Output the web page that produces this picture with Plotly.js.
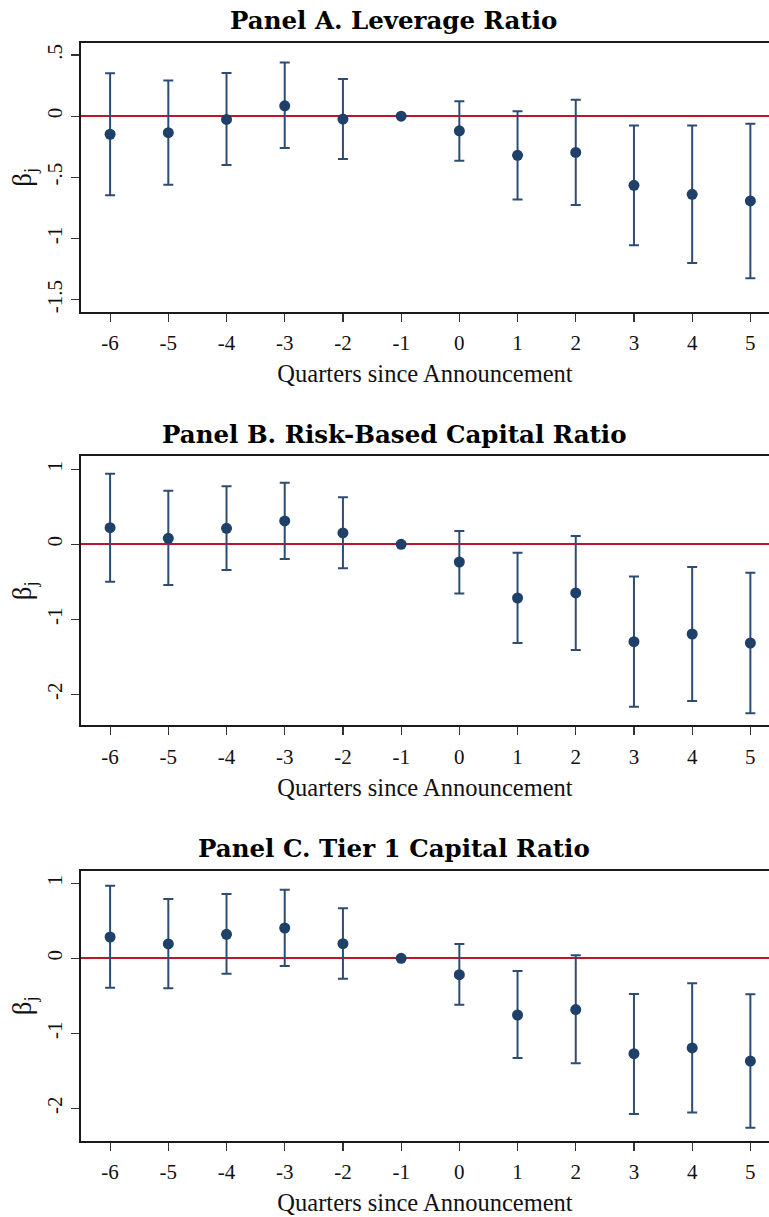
<!DOCTYPE html>
<html>
<head>
<meta charset="utf-8">
<script src="https://cdn.plot.ly/plotly-3.0.1.min.js"></script>
<style>
  html, body { margin: 0; padding: 0; background: #ffffff; overflow: hidden; }
  #chart { width: 769px; height: 1217px; }
</style>
</head>
<body>
<div id="chart"></div>
<script>
// ---- Data ----
const quarters = [-6, -5, -4, -3, -2, -1, 0, 1, 2, 3, 4, 5];
const xTickText = ['-6', '-5', '-4', '-3', '-2', '-1', '0', '1', '2', '3', '4', '5'];

const panelTitles = ['Panel A. Leverage Ratio', 'Panel B. Risk-Based Capital Ratio', 'Panel C. Tier 1 Capital Ratio'];
const xAxisTitle = 'Quarters since Announcement';
const yAxisTitle = 'β<sub>j</sub>';

// Panel A: Leverage Ratio
const levCoef = [-0.148, -0.135, -0.027, 0.084, -0.024, 0, -0.120, -0.320, -0.296, -0.565, -0.639, -0.693];
const levHi   = [ 0.351,  0.291,  0.353, 0.438,  0.304, 0,  0.122,  0.041,  0.133, -0.076, -0.076, -0.063];
const levLo   = [-0.647, -0.560, -0.400, -0.261, -0.351, 0, -0.364, -0.680, -0.726, -1.055, -1.199, -1.324];
const levTickVals = [0.5, 0, -0.5, -1, -1.5];
const levTickText = ['.5', '0', '-.5', '-1', '-1.5'];

// Panel B: Risk-Based Capital Ratio
const rbcCoef = [0.221, 0.080, 0.213, 0.311, 0.151, 0, -0.236, -0.716, -0.649, -1.299, -1.196, -1.316];
const rbcHi   = [0.941, 0.715, 0.773, 0.821, 0.627, 0,  0.178, -0.112,  0.111, -0.431, -0.303, -0.380];
const rbcLo   = [-0.498, -0.543, -0.343, -0.196, -0.320, 0, -0.657, -1.316, -1.409, -2.165, -2.090, -2.254];

// Panel C: Tier 1 Capital Ratio
const t1Coef = [0.284, 0.191, 0.320, 0.404, 0.195, 0, -0.218, -0.756, -0.684, -1.271, -1.195, -1.370];
const t1Hi   = [0.968, 0.791, 0.857, 0.915, 0.667, 0,  0.190, -0.168,  0.040, -0.475, -0.333, -0.480];
const t1Lo   = [-0.392, -0.400, -0.205, -0.103, -0.272, 0, -0.620, -1.328, -1.400, -2.075, -2.057, -2.259];
const capTickVals = [1, 0, -1, -2];
const capTickText = ['1', '0', '-1', '-2'];

// ---- Styling ----
const H = 1217;
const navy = '#1f4068';
const barColor = '#2c4c74';
const red = '#c0142c';
const serif = 'Liberation Serif, Times New Roman, serif';
const titleSerif = 'DejaVu Serif, Liberation Serif, serif';

function makeTrace(coef, hi, lo, axisNum) {
  const sfx = axisNum === 1 ? '' : String(axisNum);
  return {
    type: 'scatter',
    mode: 'markers',
    x: quarters,
    y: coef,
    xaxis: 'x' + sfx,
    yaxis: 'y' + sfx,
    marker: { color: navy, size: 11 },
    error_y: {
      type: 'data',
      symmetric: false,
      array: hi.map((h, i) => h - coef[i]),
      arrayminus: coef.map((c, i) => c - lo[i]),
      color: barColor,
      thickness: 2,
      width: 5
    },
    showlegend: false,
    hoverinfo: 'x+y'
  };
}

const data = [
  makeTrace(levCoef, levHi, levLo, 1),
  makeTrace(rbcCoef, rbcHi, rbcLo, 2),
  makeTrace(t1Coef, t1Hi, t1Lo, 3)
];

// pixel boxes of the three plotting areas (top, bottom)
const boxes = [[42.7, 312], [456, 725.3], [871, 1140.7]];
const yRanges = [[-1.6, 0.6], [-2.413, 1.177], [-2.432, 1.164]];
const yTicks = [[levTickVals, levTickText], [capTickVals, capTickText], [capTickVals, capTickText]];

function xAxis(i) {
  return {
    domain: [0, 1],
    anchor: i === 0 ? 'y' : 'y' + (i + 1),
    range: [-6.5, 5.32],
    tickmode: 'array',
    tickvals: quarters,
    ticktext: xTickText,
    ticks: 'outside',
    ticklen: 8,
    tickwidth: 1.2,
    tickcolor: '#333',
    ticklabelstandoff: 3,
    showline: true,
    linecolor: '#1a1a1a',
    linewidth: 2,
    mirror: true,
    showgrid: false,
    zeroline: false,
    automargin: false,
    fixedrange: true,
    tickfont: { family: serif, size: 21, color: '#111' },
    title: { text: xAxisTitle, font: { family: serif, size: 24.5, color: '#111' }, standoff: 11 }
  };
}

function yAxis(i) {
  const [top, bot] = boxes[i];
  return {
    domain: [1 - bot / H, 1 - top / H],
    anchor: i === 0 ? 'x' : 'x' + (i + 1),
    range: yRanges[i],
    tickmode: 'array',
    tickvals: yTicks[i][0],
    ticktext: yTicks[i][1],
    tickangle: -90,
    ticks: 'outside',
    ticklen: 8,
    tickwidth: 1.2,
    tickcolor: '#333',
    ticklabelstandoff: 1,
    showline: true,
    linecolor: '#1a1a1a',
    linewidth: 2,
    mirror: false,
    showgrid: false,
    zeroline: true,
    zerolinecolor: red,
    zerolinewidth: 2,
    automargin: false,
    fixedrange: true,
    tickfont: { family: serif, size: 21, color: '#111' },
    title: { text: yAxisTitle, font: { family: serif, size: 27, color: '#111' }, standoff: 3 }
  };
}

const layout = {
  width: 769,
  height: H,
  margin: { l: 81, r: 0, t: 0, b: 0 },
  paper_bgcolor: '#ffffff',
  plot_bgcolor: '#ffffff',
  showlegend: false,
  xaxis: xAxis(0), yaxis: yAxis(0),
  xaxis2: xAxis(1), yaxis2: yAxis(1),
  xaxis3: xAxis(2), yaxis3: yAxis(2),
  annotations: panelTitles.map((t, i) => ({
    text: t,
    xref: 'paper', yref: 'paper',
    x: (393.5 - 81) / 688,
    y: 1 - [20, 434, 848][i] / H,
    xanchor: 'center', yanchor: 'middle',
    showarrow: false,
    font: { family: titleSerif, size: 24.5, weight: 'bold', color: '#000' }
  }))
};

Plotly.newPlot('chart', data, layout, { displayModeBar: false, staticPlot: true });
</script>
</body>
</html>
